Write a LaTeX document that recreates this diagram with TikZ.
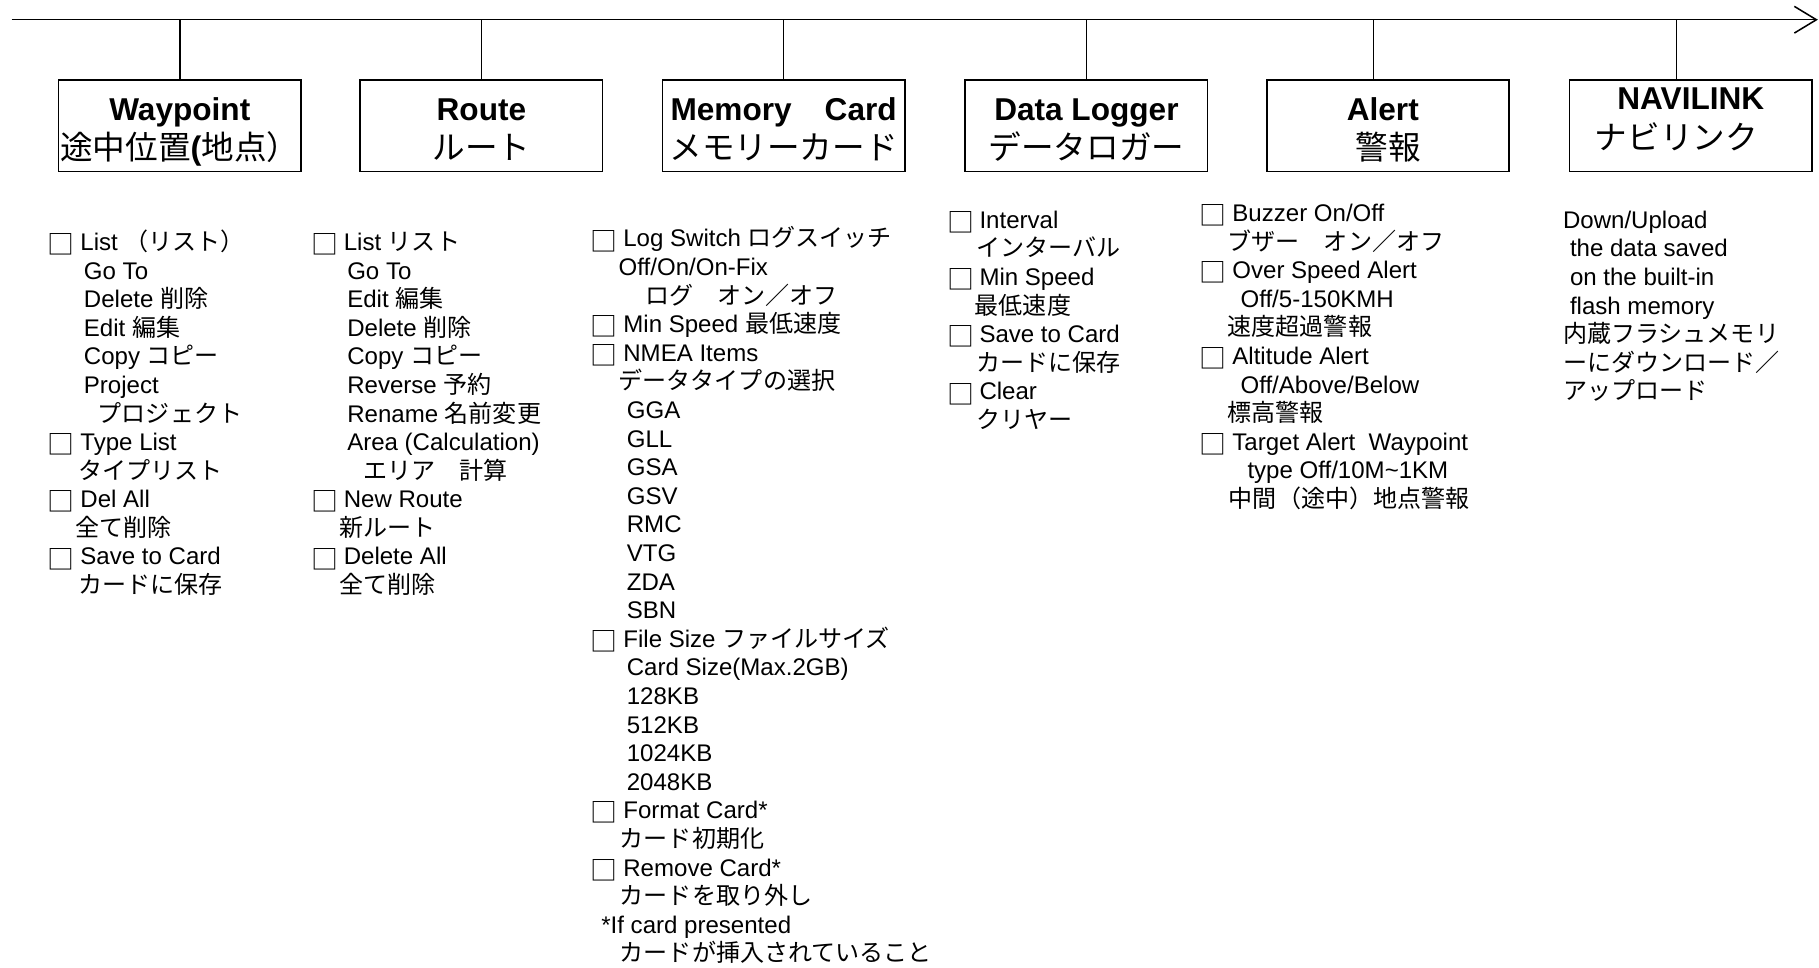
\documentclass[tikz,border=0pt]{standalone}
\usepackage{fontspec}
\setmainfont{Liberation Sans}
\newfontfamily\jpfont{Noto Sans CJK JP}
\usetikzlibrary{arrows.meta,positioning}
\newdimen\pxu \pxu=0.02cm
\newcommand\jp[1]{{\jpfont #1}}
\newcommand\cb{\makebox[24\pxu][l]{\hspace*{-4\pxu}\raisebox{-2pt}{\jpfont\fontsize{13.2}{14}\selectfont □}}}
\newcommand\ind[1]{\hspace*{#1\pxu}}

\tikzset{
  menubox/.style={draw,line width=0.75pt,minimum width=4.18cm,minimum height=1.58cm,inner sep=0pt},
  ttl/.style={anchor=base,inner sep=0pt,font=\fontsize{15.5}{19}\selectfont\bfseries},
  jttl/.style={anchor=base,inner sep=0pt,font=\fontsize{16}{19}\selectfont\jpfont},
  items/.style={anchor=north west,inner sep=0pt,align=left,font=\fontsize{11.8}{14.03}\selectfont}
}

\begin{document}
\begin{tikzpicture}[x=0.02cm,y=-0.02cm]
\useasboundingbox (0,0) rectangle (1568,834.4);
% time line
\coordinate (bar0) at (10,17);
\coordinate (bar1) at (1567,17);
\draw[line width=0.75pt,-{Straight Barb[length=0.38cm,width=0.46cm]}] (bar0) -- (bar1);

% menu boxes
\node (wp) at ( 155,108.5) [menubox] {};
\node (rt) at ( 415,108.5) [menubox] {};
\node (mc) at ( 675.5,108.5) [menubox] {};
\node (dl) at ( 936.5,108.5) [menubox] {};
\node (al) at (1196.5,108.5) [menubox] {};
\node (nl) at (1457.5,108.5) [menubox] {};

\node (wpt) at ( 155,103.75) [ttl] {Waypoint};
\node (wpj) at ( 155,137.7) [jttl] {途中位置{\rmfamily\bfseries(}地点）};
\node (rtt) at ( 415,103.75) [ttl] {Route};
\node (rtj) at ( 415,137.7) [jttl] {ルート};
\node (mct) at ( 675.5,103.75) [ttl] {\makebox[3.9cm]{Memory\hfill Card}};
\node (mcj) at ( 675.5,137.7) [jttl] {メモリーカード};
\node (dlt) at ( 936.5,103.75) [ttl] {Data Logger};
\node (dlj) at ( 936.5,137.7) [jttl] {データロガー};
\node (alt) at (1192,103.75) [ttl] {Alert};
\node (alj) at (1196.5,137.7) [jttl] {警報};
\node (nlt) at (1457.5,94.75) [ttl] {NAVILINK};
\node (nlj) at (1445,128.7) [jttl] {ナビリンク};

\draw[line width=0.75pt] (wp.north) -- (wp.north |- bar0);
\draw[line width=0.75pt] (rt.north) -- (rt.north |- bar0);
\draw[line width=0.75pt] (mc.north) -- (mc.north |- bar0);
\draw[line width=0.75pt] (dl.north) -- (dl.north |- bar0);
\draw[line width=0.75pt] ([xshift=-0.25cm]al.north) -- ([xshift=-0.25cm]al.north |- bar0);
\draw[line width=0.75pt] ([xshift=-0.25cm]nl.north) -- ([xshift=-0.25cm]nl.north |- bar0);

% item lists
\node (wpl) at (45,196.2) [items] {\rule{0pt}{11pt}\cb List \jp{（リスト）}\\
\ind{27}Go To\\
\ind{27}Delete \jp{削除}\\
\ind{27}Edit \jp{編集}\\
\ind{27}Copy \jp{コピー}\\
\ind{27}Project\\
\ind{39}\jp{プロジェクト}\\
\cb Type List\\
\ind{22}\jp{タイプリスト}\\
\cb Del All\\
\ind{20}\jp{全て削除}\\
\cb Save to Card\\
\ind{22}\jp{カードに保存}};

\node (rtl) at (272,196.2) [items] {\rule{0pt}{11pt}\cb List \jp{リスト}\\
\ind{27}Go To\\
\ind{27}Edit \jp{編集}\\
\ind{27}Delete \jp{削除}\\
\ind{27}Copy \jp{コピー}\\
\ind{27}Reverse \jp{予約}\\
\ind{27}Rename \jp{名前変更}\\
\ind{27}Area (Calculation)\\
\ind{41}\jp{エリア　計算}\\
\cb New Route\\
\ind{20}\jp{新ルート}\\
\cb Delete All\\
\ind{20}\jp{全て削除}};

\node (mcl) at (513,193.2) [items] {\rule{0pt}{11pt}\cb Log Switch \jp{ログスイッチ}\\
\ind{20}Off/On/On-Fix\\
\ind{43}\jp{ログ　オン／オフ}\\
\cb Min Speed \jp{最低速度}\\
\cb NMEA Items\\
\ind{20}\jp{データタイプの選択}\\
\ind{27}GGA\\
\ind{27}GLL\\
\ind{27}GSA\\
\ind{27}GSV\\
\ind{27}RMC\\
\ind{27}VTG\\
\ind{27}ZDA\\
\ind{27}SBN\\
\cb File Size \jp{ファイルサイズ}\\
\ind{27}Card Size(Max.2GB)\\
\ind{27}128KB\\
\ind{27}512KB\\
\ind{27}1024KB\\
\ind{27}2048KB\\
\cb Format Card*\\
\ind{21}\jp{カード初期化}\\
\cb Remove Card*\\
\ind{21}\jp{カードを取り外し}\\
\ind{5}*If card presented\\
\ind{21}\jp{カードが挿入されていること}};

\node (dll) at (820,177.2) [items] {\rule{0pt}{11pt}\cb Interval\\
\ind{21}\jp{インターバル}\\
\cb Min Speed\\
\ind{20}\jp{最低速度}\\
\cb Save to Card\\
\ind{21}\jp{カードに保存}\\
\cb Clear\\
\ind{21}\jp{クリヤー}};

\node (all) at (1038,171.2) [items] {\rule{0pt}{11pt}\cb Buzzer On/Off\\
\ind{20}\jp{ブザー　オン／オフ}\\
\cb Over Speed Alert\\
\ind{31}Off/5-150KMH\\
\ind{20}\jp{速度超過警報}\\
\cb Altitude Alert\\
\ind{31}Off/Above/Below\\
\ind{20}\jp{標高警報}\\
\cb Target Alert\ \ Waypoint\\
\ind{37}type Off/10M\textasciitilde 1KM\\
\ind{21}\jp{中間（途中）地点警報}};

\node (nll) at (1347,177.2) [items] {\rule{0pt}{11pt}Down/Upload\\
\ind{6}the data saved\\
\ind{6}on the built-in\\
\ind{6}flash memory\\
\jp{内蔵フラシュメモリ}\\
\jp{ーにダウンロード／}\\
\jp{アップロード}};
\end{tikzpicture}
\end{document}
